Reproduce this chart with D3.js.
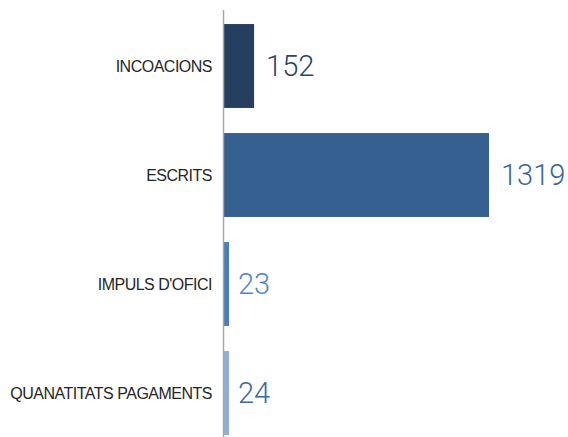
<!DOCTYPE html>
<html lang="ca">
<head>
<meta charset="UTF-8">
<title>Tramitació</title>
<script src="https://d3js.org/d3.v7.min.js"></script>
<style>
    body { margin: 0; background: #fff; }
    .cat { font-family: "Liberation Sans", Arial, sans-serif; font-size: 16px; fill: #262626; letter-spacing: -0.5px; }
    .val { font-family: Roboto, "Open Sans", sans-serif; font-weight: 300; font-size: 29px; }
</style>
</head>
<body>
<div id="chart"></div>
<script>
// data
const categories = ["INCOACIONS", "ESCRITS", "IMPULS D'OFICI", "QUANATITATS PAGAMENTS"];
const values = [152, 1319, 23, 24];
const barColors = ["#263F61", "#35608F", "#4A7DBD", "#8FAFDA"];
const labelColors = ["#2A4468", "#3A6699", "#4F86C8", "#3A68A2"];

const width = 568, height = 437;
const axisX = 223.5;

const svg = d3.select("#chart").append("svg")
    .attr("width", width)
    .attr("height", height);

const x = d3.scaleLinear()
    .domain([0, 1319])
    .range([axisX, 489]);

const y = d3.scaleBand()
    .domain(categories)
    .range([11.5, 447.5])
    .paddingInner(0.23)
    .paddingOuter(0.115);

// bars
svg.selectAll(".bar")
    .data(values)
    .join("rect")
    .attr("class", "bar")
    .attr("x", axisX)
    .attr("y", (d, i) => y(categories[i]))
    .attr("height", y.bandwidth())
    .attr("width", d => Math.max(x(d) - axisX, 5.5))
    .attr("fill", (d, i) => barColors[i]);

// axis line
svg.append("line")
    .attr("x1", axisX).attr("x2", axisX)
    .attr("y1", 10).attr("y2", height)
    .attr("stroke", "#a8a8a8")
    .attr("stroke-width", 1.5);

// category labels
svg.selectAll(".cat")
    .data(categories)
    .join("text")
    .attr("class", "cat")
    .attr("x", 212)
    .attr("y", d => y(d) + y.bandwidth() / 2)
    .attr("dy", "0.35em")
    .attr("text-anchor", "end")
    .text(d => d);

// value labels
svg.selectAll(".val")
    .data(values)
    .join("text")
    .attr("class", "val")
    .attr("x", d => Math.max(x(d), axisX + 5.5) + (d > 100 ? 12 : 9))
    .attr("y", (d, i) => y(categories[i]) + y.bandwidth() / 2)
    .attr("dy", "0.36em")
    .attr("fill", (d, i) => labelColors[i])
    .text(d => d);
</script>
</body>
</html>
